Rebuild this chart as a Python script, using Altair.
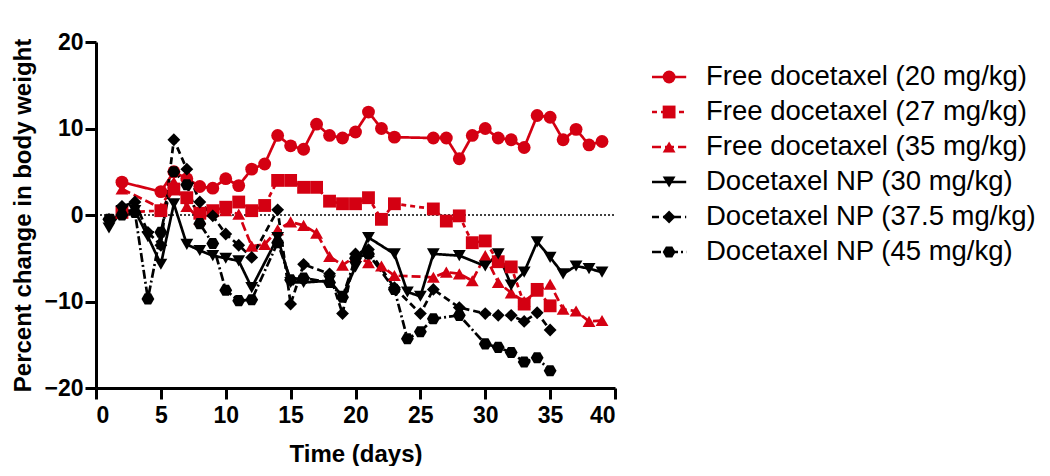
import altair as alt
import pandas as pd

names = [
    "Free docetaxel (20 mg/kg)",
    "Free docetaxel (27 mg/kg)",
    "Free docetaxel (35 mg/kg)",
    "Docetaxel NP (30 mg/kg)",
    "Docetaxel NP (37.5 mg/kg)",
    "Docetaxel NP (45 mg/kg)",
]
red = "#d40012"
colors = [red, red, red, "black", "black", "black"]
dashes = [[1, 0], [5, 4], [9, 4], [1, 0], [7, 4], [9, 3, 2, 3]]
hexagon = "M-1,0L-0.5,-0.866L0.5,-0.866L1,0L0.5,0.866L-0.5,0.866Z"
shapes = ["circle", "square", "triangle-up", "triangle-down", "diamond", hexagon]

days_f20 = [2, 5, 6, 7, 8, 9, 10, 11, 12, 13, 14, 15, 16, 17, 18, 19, 20, 21, 22, 23,
            26, 27, 28, 29, 30, 31, 32, 33, 34, 35, 36, 37, 38, 39]
vals_f20 = [3.8, 2.7, 5.0, 4.2, 3.3, 3.1, 4.2, 3.4, 5.3, 5.9, 9.2, 8.0, 7.6, 10.5, 9.2, 8.9, 9.6, 11.9, 10.0, 9.0,
            8.9, 8.9, 6.5, 9.2, 10.0, 8.9, 8.7, 7.8, 11.5, 11.3, 8.7, 9.9, 8.1, 8.5]

days_f27 = [2, 5, 6, 7, 8, 9, 10, 11, 12, 13, 14, 15, 16, 17, 18, 19, 20, 21, 22, 23,
            26, 27, 28, 29, 30, 31, 32, 33, 34, 35]
vals_f27 = [0.3, 0.5, 3.0, 2.0, 0.2, 0.5, 0.9, 1.5, 0.5, 1.1, 4.0, 4.0, 3.2, 3.2, 1.6, 1.3, 1.3, 2.0, -0.5, 1.3,
            0.7, -0.7, -0.1, -3.2, -3.0, -5.4, -6.0, -10.3, -8.6, -10.5]

days_f35 = [2, 5, 6, 7, 8, 9, 10, 11, 12, 13, 14, 15, 16, 17, 18, 19, 20, 21, 22, 23,
            26, 27, 28, 29, 30, 31, 32, 33, 34, 35, 36, 37, 38, 39]
vals_f35 = [3.0, 0.8, 3.8, 1.0, -0.5, 0.5, 0.5, 0.1, -3.6, -3.4, -1.7, -0.8, -1.2, -2.1, -4.8, -5.8, -4.8, -5.5, -5.9, -7.0,
            -7.2, -6.6, -6.8, -7.6, -4.7, -7.8, -9.0, -10.0, -8.8, -8.0, -10.9, -11.1, -12.3, -12.2]

days_np30 = [1, 2, 3, 4, 5, 6, 7, 8, 9, 10, 11, 12, 14, 15, 16, 18, 19, 20, 21, 23,
             24, 25, 26, 28, 30, 31, 32, 33, 34, 35, 36, 37, 38, 39]
vals_np30 = [-1.5, 0.5, 0.5, -2.5, -5.7, 1.3, -3.4, -4.1, -4.7, -5.0, -5.3, -8.4, -2.6, -7.8, -7.8, -7.6, -9.4, -6.0, -2.6, -4.5,
             -8.9, -9.4, -4.5, -4.7, -5.9, -4.5, -8.1, -6.6, -3.1, -4.9, -6.8, -5.9, -6.2, -6.6]

days_np375 = [1, 2, 3, 4, 5, 6, 7, 8, 9, 10, 11, 12, 14, 15, 16, 18, 19, 20, 21, 23,
              25, 26, 28, 30, 31, 32, 33, 34, 35]
vals_np375 = [-0.5, 1.0, 1.5, -2.0, -3.5, 8.7, 5.3, 1.5, -0.1, -2.2, -3.5, -4.9, 0.6, -10.3, -5.7, -6.8, -11.4, -4.5, -4.0, -8.4,
              -11.4, -8.6, -10.7, -11.4, -11.6, -11.6, -12.3, -11.3, -13.3]

days_np45 = [1, 2, 3, 4, 5, 6, 7, 8, 9, 10, 11, 12, 14, 15, 16, 18, 19, 20, 21, 23,
             24, 25, 26, 28, 30, 31, 32, 33, 34, 35]
vals_np45 = [-0.5, 0.0, 0.3, -9.7, -2.0, 5.0, 3.5, -1.0, -3.3, -8.7, -9.9, -9.8, -3.2, -7.5, -7.3, -7.8, -9.5, -5.0, -4.5, -8.6,
             -14.3, -13.5, -12.0, -11.6, -14.9, -15.3, -15.9, -17.0, -16.5, -18.0]

all_days = [days_f20, days_f27, days_f35, days_np30, days_np375, days_np45]
all_vals = [vals_f20, vals_f27, vals_f35, vals_np30, vals_np375, vals_np45]

rows = []
for name, ds, vs in zip(names, all_days, all_vals):
    for d, v in zip(ds, vs):
        rows.append({"series": name, "day": d, "value": v})
df = pd.DataFrame(rows)

FONT = "Liberation Sans"
color_scale = alt.Scale(domain=names, range=colors)
shape_scale = alt.Scale(domain=names, range=shapes)
dash_scale = alt.Scale(domain=names, range=dashes)

x_enc = alt.X("day:Q", scale=alt.Scale(domain=[0, 40], nice=False),
              axis=alt.Axis(values=list(range(0, 41, 5)), title="Time (days)",
                            titleFontSize=24, titlePadding=15, labelPadding=5))
y_enc = alt.Y("value:Q", scale=alt.Scale(domain=[-20, 20], nice=False),
              axis=alt.Axis(values=[-20, -10, 0, 10, 20], title="Percent change in body weight",
                            titleFontSize=24, titlePadding=8))

base = alt.Chart(df)
zero = alt.Chart(pd.DataFrame({"series": ["zero"]})).mark_rule(
    color="black", strokeWidth=1.5, strokeDash=[2, 2]
).encode(
    x=alt.XDatum(0, type="quantitative"),
    x2=alt.X2Datum(40),
    y=alt.YDatum(0, type="quantitative"),
)
lines = base.mark_line(strokeWidth=2.7).encode(
    x=x_enc, y=y_enc,
    color=alt.Color("series:N", scale=color_scale, legend=None),
    strokeDash=alt.StrokeDash("series:N", scale=dash_scale, legend=None),
    detail="series:N",
)
points = base.mark_point(filled=True, size=165, opacity=1).encode(
    x="day:Q", y="value:Q",
    color=alt.Color("series:N", scale=color_scale, legend=None),
    shape=alt.Shape("series:N", scale=shape_scale, legend=None),
)
main = alt.layer(lines, zero, points).properties(width=519, height=346)

leg_df = pd.DataFrame({"series": names})
leg_y = alt.Y("series:N", scale=alt.Scale(domain=names, type="point", padding=1), axis=None)
leg_x = alt.Scale(domain=[0, 38])
leg_base = alt.Chart(leg_df)
leg_rule = leg_base.mark_rule(strokeWidth=2.7).encode(
    x=alt.XDatum(0, type="quantitative", scale=leg_x, axis=None),
    x2=alt.X2Datum(3.8),
    y=leg_y,
    color=alt.Color("series:N", scale=color_scale, legend=None),
    strokeDash=alt.StrokeDash("series:N", scale=dash_scale, legend=None),
)
leg_pt = leg_base.mark_point(filled=True, size=165, opacity=1).encode(
    x=alt.XDatum(1.9, type="quantitative"),
    y=leg_y,
    color=alt.Color("series:N", scale=color_scale, legend=None),
    shape=alt.Shape("series:N", scale=shape_scale, legend=None),
)
leg_txt = leg_base.mark_text(align="left", baseline="middle", fontSize=27.5, font=FONT, color="black").encode(
    x=alt.XDatum(6, type="quantitative"),
    y=leg_y,
    text="series:N",
)
legend = alt.layer(leg_rule, leg_pt, leg_txt).properties(width=360, height=245)

chart = alt.hconcat(main, legend, spacing=33).properties(
    padding={"left": 3, "top": 23, "right": 0, "bottom": 0}
).configure_view(stroke=None).configure_axis(
    grid=False, domainColor="black", domainWidth=3, tickColor="black", tickWidth=3,
    tickSize=11, labelFont=FONT, labelFontSize=23, labelFontWeight="bold", labelColor="black",
    labelPadding=2, titleFont=FONT, titleFontWeight="bold", titleColor="black",
)

chart.save("out.html", embed_options={"renderer": "svg", "actions": False})
